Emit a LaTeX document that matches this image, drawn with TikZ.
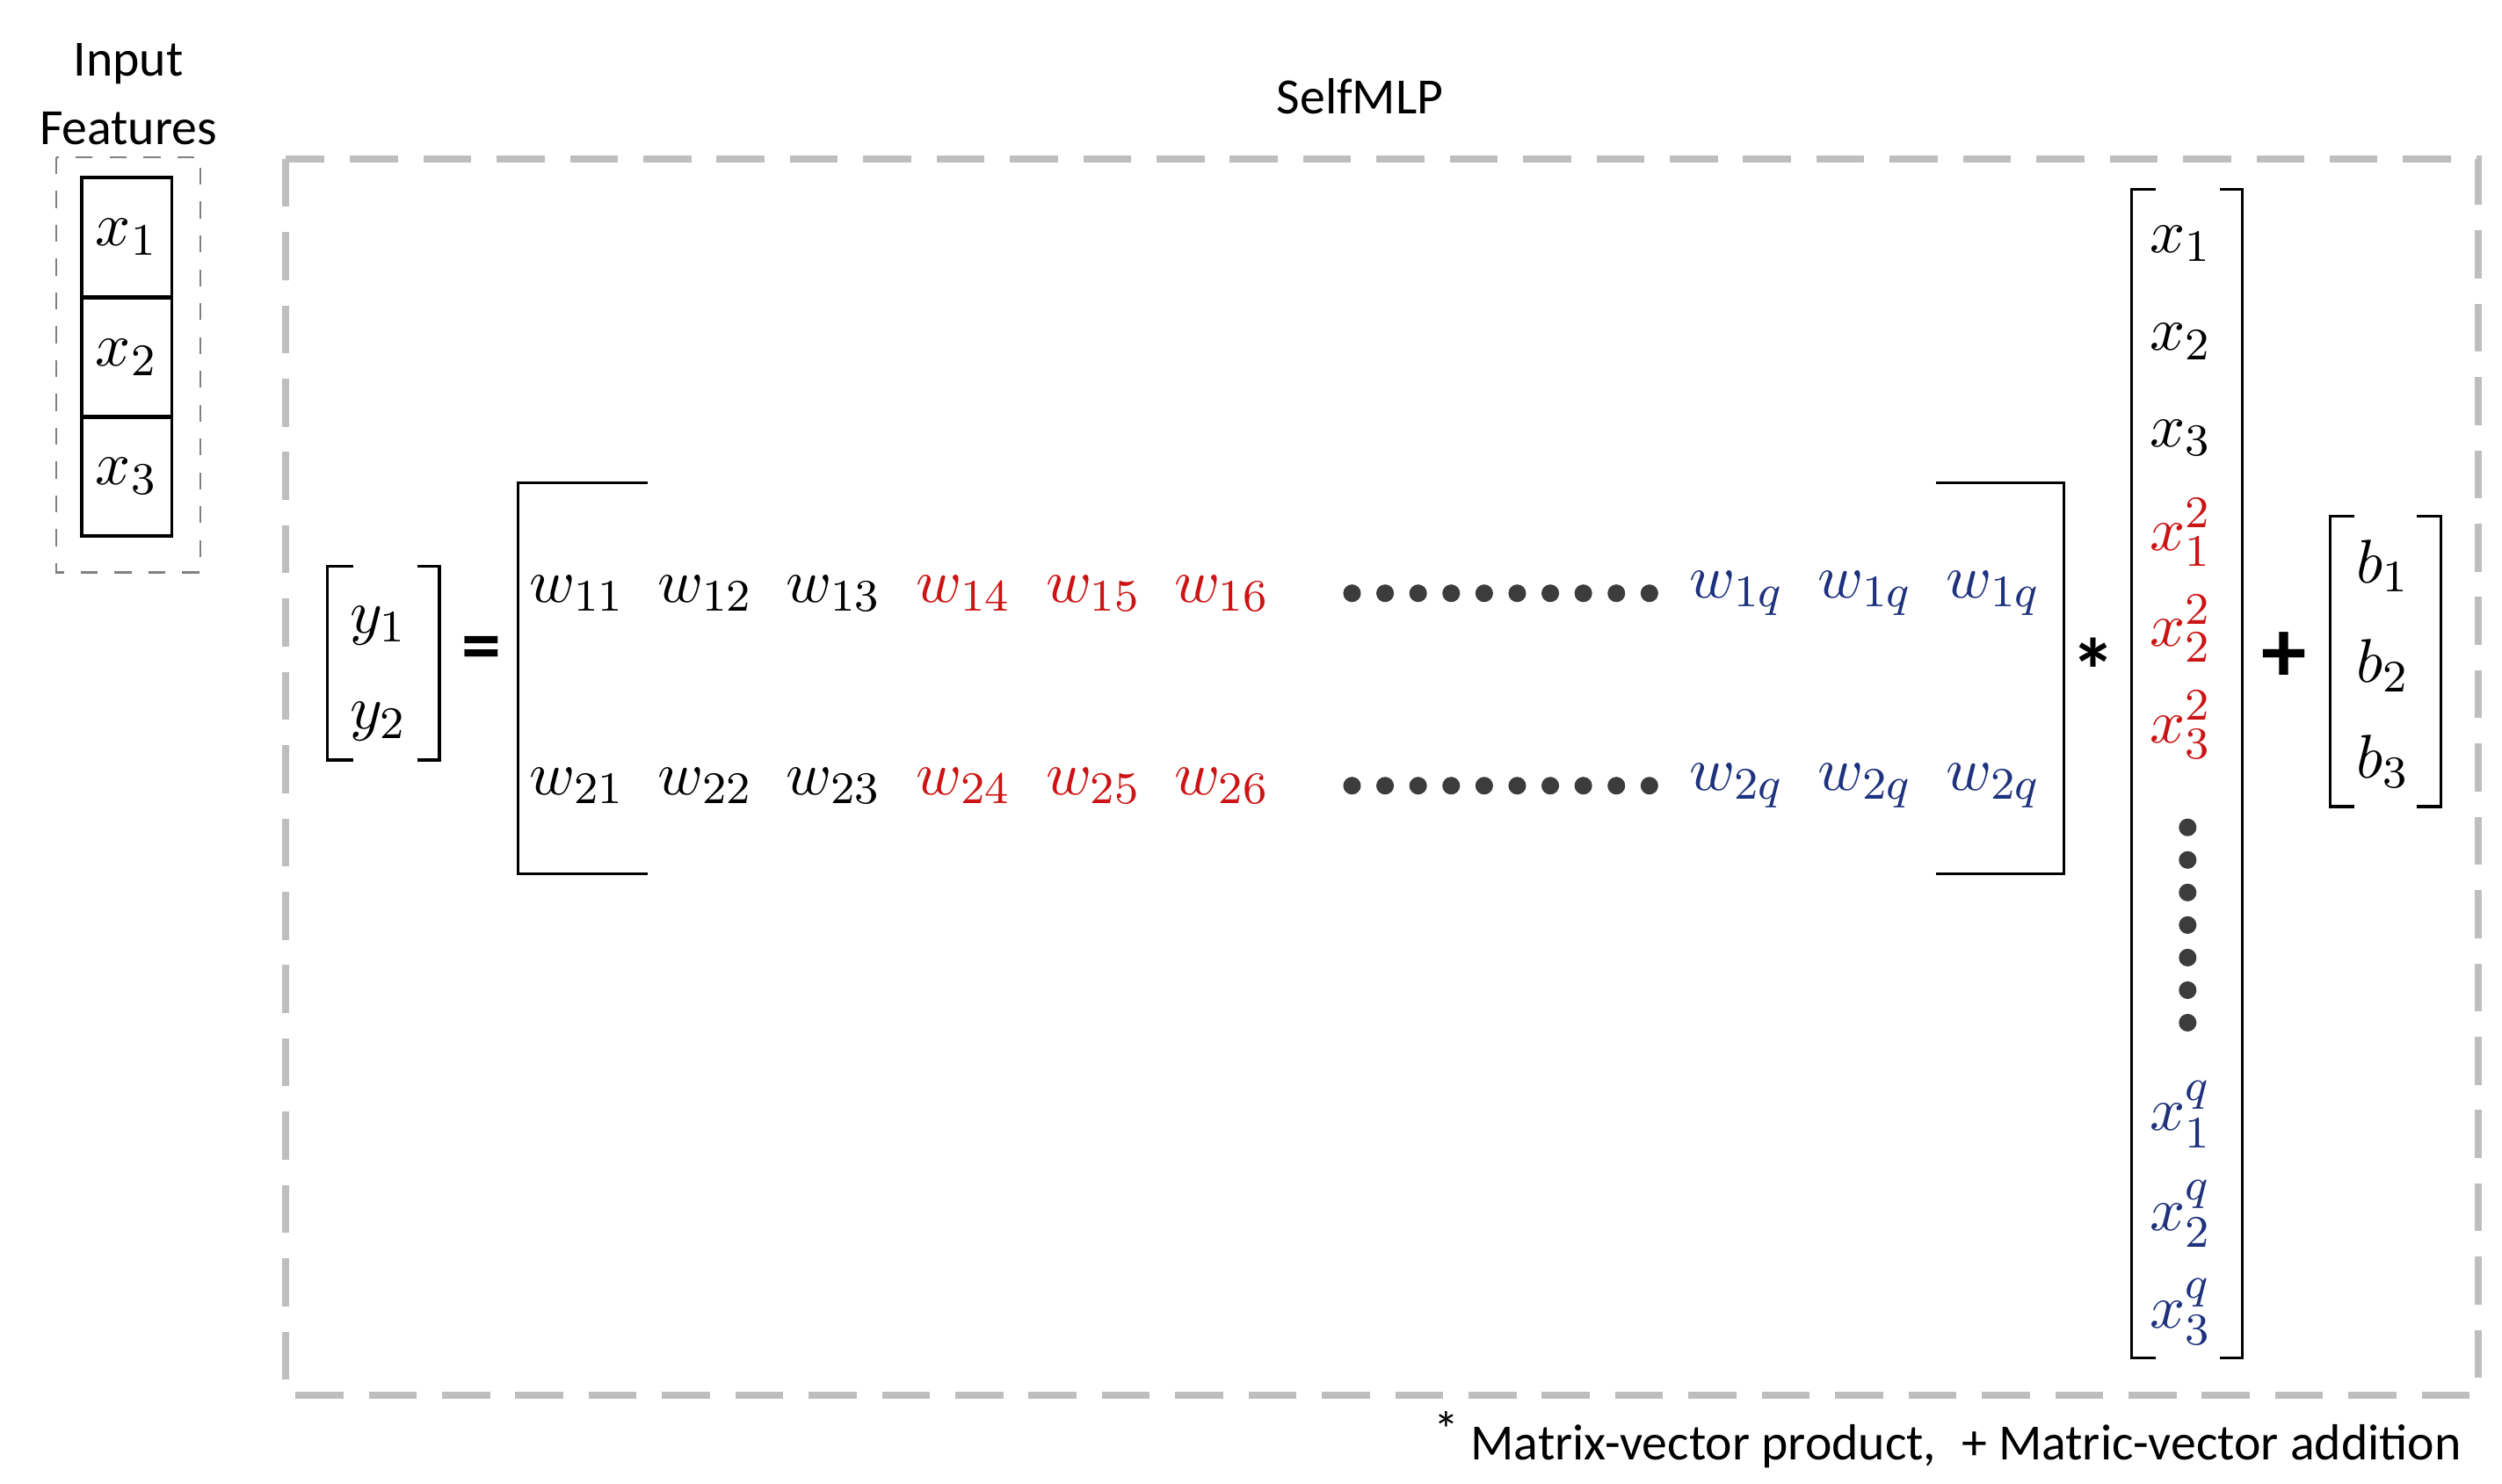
\documentclass[tikz,border=0pt]{standalone}
\usepackage{fontspec}
\setmainfont{Carlito}
\definecolor{myred}{RGB}{204,20,20}
\definecolor{myblue}{RGB}{30,50,125}
\definecolor{dgray}{RGB}{190,190,190}
\definecolor{dotc}{RGB}{60,60,60}
\begin{document}
\begin{tikzpicture}[x=0.01cm,y=-0.01cm,
  m/.style={font=\fontsize{11}{13}\selectfont,inner sep=0.5pt},
  t/.style={font=\fontsize{9}{11}\selectfont},
  br/.style={line width=0.5pt},
  dot/.style={circle,fill=dotc,inner sep=0pt,minimum size=1.1mm}]
\useasboundingbox (0,0) rectangle (1560,925);
\node[t] (lab1) at (80,40) {Input};
\node[t] (lab2) at (80,80) {Features};
\draw[dashed,gray,line width=0.4pt] (35,98) rectangle (125,357);
\node[draw,minimum width=0.56cm,minimum height=0.745cm,m,line width=0.5pt] (c1) at (79,148) {$x_1$};
\node[draw,minimum width=0.56cm,minimum height=0.745cm,m,line width=0.5pt] (c2) at (79,223) {$x_2$};
\node[draw,minimum width=0.56cm,minimum height=0.745cm,m,line width=0.5pt] (c3) at (79,297) {$x_3$};
\node[t] (sm) at (848,60) {SelfMLP};
\draw[dgray,line width=1.2pt,dash pattern=on 8.5pt off 4.5pt] (178,99) rectangle (1545,870);
% y vector
\draw[br] (220,353) -- (204,353) -- (204,474) -- (220,474);
\draw[br] (260,353) -- (274,353) -- (274,474) -- (260,474);
\node[m] (y1) at (236,390) {$y_1$};
\node[m] (y2) at (236,450) {$y_2$};
\node[font=\fontsize{14}{14}\selectfont\bfseries] (eq) at (300,408) {=};
% matrix
\draw[br] (404,301) -- (323,301) -- (323,545) -- (404,545);
\draw[br] (1207,301) -- (1287,301) -- (1287,545) -- (1207,545);
\foreach \r/\y in {1/370,2/490}{
  \node[m] at (360,\y) {$w_{\r1}$};
  \node[m] at (440,\y) {$w_{\r2}$};
  \node[m] at (520,\y) {$w_{\r3}$};
  \node[m,myred] at (601,\y) {$w_{\r4}$};
  \node[m,myred] at (682,\y) {$w_{\r5}$};
  \node[m,myred] at (762,\y) {$w_{\r6}$};
  \foreach \i in {0,...,9} \node[dot] at (843+20.6*\i,\y) {};
  \node[m,myblue] at (1083,\y) {$w_{\r q}$};
  \node[m,myblue] at (1163,\y) {$w_{\r q}$};
  \node[m,myblue] at (1243,\y) {$w_{\r q}$};
}
\node[font=\fontsize{16}{16}\selectfont\bfseries] (st) at (1305,418) {*};
% x vector
\draw[br] (1344,118) -- (1329,118) -- (1329,847) -- (1344,847);
\draw[br] (1384,118) -- (1398,118) -- (1398,847) -- (1384,847);
\node[m] at (1360,152) {$x_1$};
\node[m] at (1360,213) {$x_2$};
\node[m] at (1360,273) {$x_3$};
\node[m,myred] at (1360,332) {$x_1^2$};
\node[m,myred] at (1360,392) {$x_2^2$};
\node[m,myred] at (1360,452) {$x_3^2$};
\foreach \i in {0,...,6} \node[dot] at (1364,516+20.3*\i) {};
\node[m,myblue] at (1360,695) {$x_1^q$};
\node[m,myblue] at (1360,757) {$x_2^q$};
\node[m,myblue] at (1360,818) {$x_3^q$};
\node[font=\fontsize{16}{16}\selectfont\bfseries] (pl) at (1424,410) {+};
% b vector
\draw[br] (1468,322) -- (1453,322) -- (1453,503) -- (1468,503);
\draw[br] (1507,322) -- (1522,322) -- (1522,503) -- (1507,503);
\node[m] at (1486,353) {$b_1$};
\node[m] at (1486,415) {$b_2$};
\node[m] at (1486,475) {$b_3$};
\node[t,anchor=east] (fn) at (1547,898) {\raisebox{0.5ex}{*} Matrix-vector product,\enspace + Matric-vector addition};
\end{tikzpicture}
\end{document}
